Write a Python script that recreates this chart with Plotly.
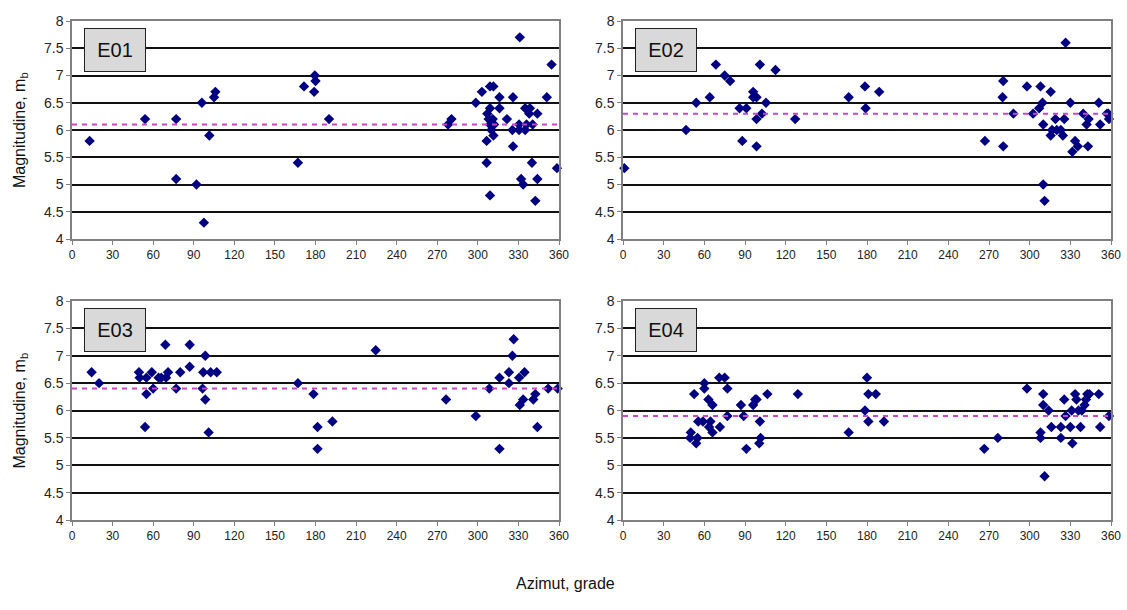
import plotly.graph_objects as go

# ---- data (azimuth in degrees, magnitude mb) ----
e01_az = [13, 54, 77, 77, 92, 96, 97.5, 101.5, 105, 106, 167, 171.5, 179.5, 180, 179, 190,
          278, 280.5, 298.5, 303, 309, 311.5, 316, 316, 309, 307, 308, 309, 310, 311, 312,
          306.5, 311.5, 306.5, 309, 321.5, 326, 325.5, 326, 330.5, 330.5, 331, 335, 336, 335,
          338.5, 338, 340.5, 340, 344, 344, 332, 333.5, 342.5, 351, 354.5, 358.5]
e01_mb = [5.8, 6.2, 6.2, 5.1, 5.0, 6.5, 4.3, 5.9, 6.6, 6.7, 5.4, 6.8, 7.0, 6.9, 6.7, 6.2,
          6.1, 6.2, 6.5, 6.7, 6.8, 6.8, 6.6, 6.4, 6.4, 6.3, 6.2, 6.1, 6.0, 6.2, 6.1,
          5.8, 5.9, 5.4, 4.8, 6.2, 6.6, 6.0, 5.7, 6.1, 6.0, 7.7, 6.0, 6.1, 6.4,
          6.4, 6.3, 6.1, 5.4, 6.3, 5.1, 5.1, 5.0, 4.7, 6.6, 7.2, 5.3]

e02_az = [1, 46.5, 54, 64, 68.5, 75, 79, 86, 91, 88, 96, 96, 98.5, 98.5, 98.5, 101, 102.5,
          105.5, 112.5, 127, 166.5, 178.5, 179, 189, 267, 280.5, 280, 280.5, 288, 298, 302.5,
          308, 307, 309.5, 310, 310, 311, 315.5, 315.5, 316.5, 319, 320, 323, 324.5, 325.5,
          326.5, 330, 333.5, 331.5, 335.5, 339.5, 342, 343.5, 343, 351, 352, 357, 358.5, 358]
e02_mb = [5.3, 6.0, 6.5, 6.6, 7.2, 7.0, 6.9, 6.4, 6.4, 5.8, 6.7, 6.6, 6.6, 6.2, 5.7, 7.2, 6.3,
          6.5, 7.1, 6.2, 6.6, 6.8, 6.4, 6.7, 5.8, 6.9, 6.6, 5.7, 6.3, 6.8, 6.3,
          6.8, 6.4, 6.5, 6.1, 5.0, 4.7, 6.7, 5.9, 6.0, 6.2, 6.0, 6.0, 5.9, 6.2,
          7.6, 6.5, 5.8, 5.6, 5.7, 6.3, 6.1, 6.2, 5.7, 6.5, 6.1, 6.3, 6.2, 6.3]

e03_az = [14.5, 20, 49.5, 50, 55, 55, 54, 59, 60, 64, 66, 69, 69.5, 71, 77, 80, 87, 87,
          96.5, 97, 98.5, 98.5, 101, 102.5, 107, 167, 178.5, 181.5, 181.5, 192.5, 224.5,
          276.5, 298.5, 308.5, 316, 316, 323, 323, 325.5, 326.5, 330.5, 334.5, 331, 333.5,
          341, 342.5, 344, 352, 359]
e03_mb = [6.7, 6.5, 6.7, 6.6, 6.6, 6.3, 5.7, 6.7, 6.4, 6.6, 6.6, 7.2, 6.6, 6.7, 6.4, 6.7, 7.2, 6.8,
          6.4, 6.7, 7.0, 6.2, 5.6, 6.7, 6.7, 6.5, 6.3, 5.7, 5.3, 5.8, 7.1,
          6.2, 5.9, 6.4, 6.6, 5.3, 6.7, 6.5, 7.0, 7.3, 6.6, 6.7, 6.1, 6.2,
          6.2, 6.3, 5.7, 6.4, 6.4]

e04_az = [50, 49.5, 52.5, 54, 55, 55.5, 59, 60, 60, 63, 63.5, 64.5, 66, 66, 71, 71.5, 75, 77,
          77, 87, 89, 91, 96, 97.5, 98.5, 100.5, 101.5, 101, 106.5, 129, 166.5, 178.5, 180,
          181, 181, 186.5, 192.5, 266.5, 276.5, 298, 308, 308, 310, 310, 311, 314, 316,
          323, 323, 325.5, 326.5, 330, 331, 331.5, 333.5, 334.5, 336, 337.5, 338.5, 340.5,
          341.5, 342.5, 344, 351, 352, 358.5]
e04_mb = [5.6, 5.5, 6.3, 5.4, 5.5, 5.8, 5.8, 6.5, 6.4, 6.2, 5.7, 5.8, 6.1, 5.6, 6.6, 5.7, 6.6, 6.4,
          5.9, 6.1, 5.9, 5.3, 6.1, 6.2, 6.2, 5.4, 5.5, 5.8, 6.3, 6.3, 5.6, 6.0, 6.6,
          6.3, 5.8, 6.3, 5.8, 5.3, 5.5, 6.4, 5.6, 5.5, 6.3, 6.1, 4.8, 6.0, 5.7,
          5.7, 5.5, 6.2, 5.9, 5.7, 6.0, 5.4, 6.3, 6.2, 6.0, 5.7, 6.0, 6.1,
          6.2, 6.3, 6.3, 6.3, 5.7, 5.9]

panel_names = ["E01", "E02", "E03", "E04"]
mean_mb = [6.1, 6.3, 6.4, 5.9]
az_range = [0, 360]
x_ticks = list(range(0, 361, 30))
y_ticks = [4, 4.5, 5, 5.5, 6, 6.5, 7, 7.5, 8]

series_az = [e01_az, e02_az, e03_az, e04_az]
series_mb = [e01_mb, e02_mb, e03_mb, e04_mb]

# ---- layout geometry (paper fractions) ----
W, H = 1127, 610
x_domains = [[72 / W, 559 / W], [623 / W, 1111 / W]]
y_domains = [[(H - 239) / H, (H - 21) / H], [(H - 520) / H, (H - 301) / H]]

FONT = "Liberation Sans, Arial, sans-serif"
fig = go.Figure()

for i in range(4):
    row, col = divmod(i, 2)
    n = i + 1
    xa = "x" if n == 1 else f"x{n}"
    ya = "y" if n == 1 else f"y{n}"
    fig.add_trace(go.Scatter(
        x=series_az[i], y=series_mb[i], mode="markers",
        marker=dict(symbol="diamond", size=8, color="#000080"),
        xaxis=xa, yaxis=ya, showlegend=False, cliponaxis=False))
    fig.add_trace(go.Scatter(
        x=az_range, y=[mean_mb[i], mean_mb[i]], mode="lines",
        line=dict(color="#cc44cc", width=2, dash="5px,5px"),
        xaxis=xa, yaxis=ya, showlegend=False))

    axkey_x = "xaxis" if n == 1 else f"xaxis{n}"
    axkey_y = "yaxis" if n == 1 else f"yaxis{n}"
    fig.layout[axkey_x] = dict(
        domain=x_domains[col], range=[0, 360], anchor=ya, automargin=False,
        tickvals=x_ticks, ticks="outside", ticklen=4, tickcolor="#808080",
        showgrid=False, zeroline=False, showline=True, mirror=True,
        linecolor="#808080", linewidth=1.5,
        tickfont=dict(family=FONT, size=12, color="#222"))
    fig.layout[axkey_y] = dict(
        domain=y_domains[row], range=[4, 8], anchor=xa, automargin=False,
        tickvals=y_ticks, ticktext=[("%g" % v) for v in y_ticks],
        ticks="outside", ticklen=4, tickcolor="#808080",
        showgrid=True, gridcolor="#111", gridwidth=1.5,
        zeroline=False, showline=True, mirror=True,
        linecolor="#808080", linewidth=1.5,
        tickfont=dict(family=FONT, size=14, color="#222"))

annotations = []
for i in range(4):
    row, col = divmod(i, 2)
    x0 = x_domains[col][0] + 12 / W
    y1 = y_domains[row][1] - 7 / H
    annotations.append(dict(
        xref="paper", yref="paper", x=x0, y=y1, xanchor="left", yanchor="top",
        text=panel_names[i], showarrow=False, align="center",
        font=dict(family=FONT, size=20, color="#111"),
        bgcolor="#d9d9d9", bordercolor="#222", borderwidth=1,
        width=58, height=40, borderpad=1))

for row in range(2):
    yc = (y_domains[row][0] + y_domains[row][1]) / 2
    annotations.append(dict(
        xref="paper", yref="paper", x=20 / W, y=yc, xanchor="center", yanchor="middle",
        text="Magnitudine, m<sub>b</sub>", textangle=-90, showarrow=False,
        font=dict(family=FONT, size=16, color="#111")))

annotations.append(dict(
    xref="paper", yref="paper", x=565 / W, y=(H - 583) / H, xanchor="center", yanchor="middle",
    text="Azimut, grade", showarrow=False,
    font=dict(family=FONT, size=16, color="#111")))

fig.update_layout(
    width=W, height=H, margin=dict(l=0, r=0, t=0, b=0, pad=0, autoexpand=False),
    paper_bgcolor="white", plot_bgcolor="white",
    annotations=annotations, showlegend=False)

fig.write_html("out.html", config={"displayModeBar": False},
               post_script="document.body.style.margin='0';")
